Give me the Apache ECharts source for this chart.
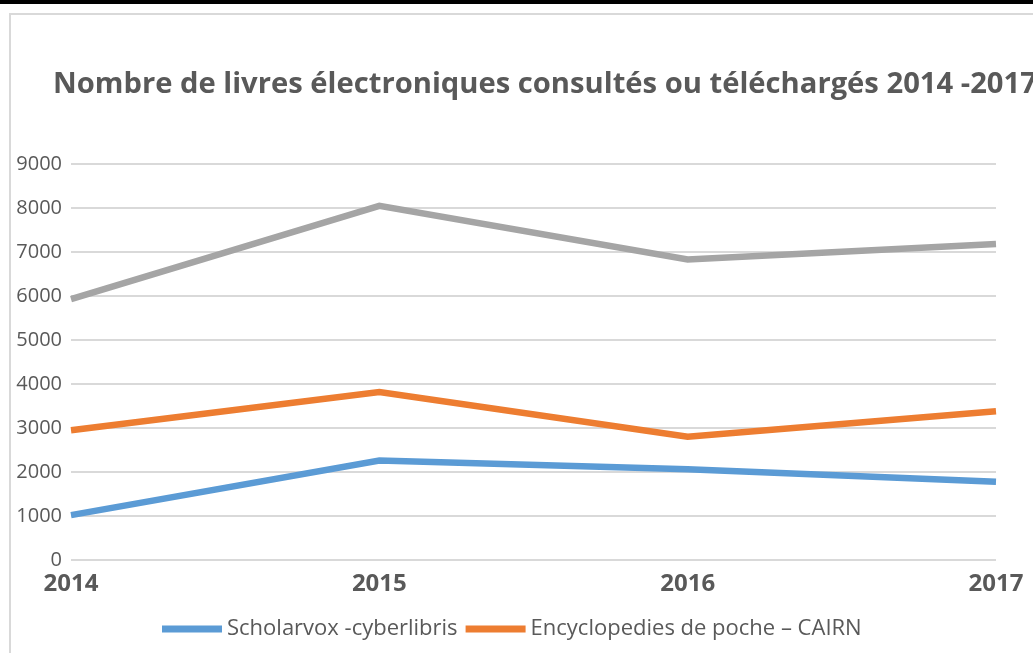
<!DOCTYPE html>
<html>
<head>
<meta charset="utf-8">
<script src="https://cdn.jsdelivr.net/npm/echarts@6/dist/echarts.min.js"></script>
<style>
html,body{margin:0;padding:0;background:#fff;}
#chart{width:1033px;height:653px;}
</style>
</head>
<body>
<div id="chart"></div>
<script>
const titleText = "Nombre de livres électroniques consultés ou téléchargés 2014 -2017";
const categories = ["2014", "2015", "2016", "2017"];
const seriesNames = ["Scholarvox -cyberlibris", "Encyclopedies de poche – CAIRN", "Série 3"];
const scholarvox = [1020, 2260, 2060, 1780];
const encyclopedies = [2950, 3820, 2800, 3380];
const serie3 = [5930, 8050, 6830, 7180];
const yTicks = {min: 0, max: 9000, interval: 1000};
const colors = ["#5B9BD5", "#ED7D31", "#A5A5A5"];

const font = "'Open Sans', sans-serif";
const chart = echarts.init(document.getElementById('chart'), null, {renderer: 'canvas'});

function lineSeries(name, data, color) {
  return {
    name: name, type: 'line', data: data, symbol: 'none',
    lineStyle: {color: color, width: 6.5, cap: 'butt', join: 'miter'},
    itemStyle: {color: color},
    emphasis: {disabled: true},
    z: 3
  };
}

chart.setOption({
  animation: false,
  backgroundColor: '#ffffff',
  graphic: [
    {type: 'rect', shape: {x: 0, y: 0, width: 1033, height: 4}, style: {fill: '#000000'}, z: 100},
    {type: 'rect', shape: {x: 10, y: 14, width: 1100, height: 700}, style: {fill: 'none', stroke: '#d9d9d9', lineWidth: 2}, z: 0}
  ],
  title: {
    text: titleText, left: 48, top: 65,
    textStyle: {fontFamily: font, fontWeight: 'bold', fontSize: 29.2, color: '#595959'}
  },
  legend: {
    data: seriesNames.slice(0, 2),
    left: 162, top: 618, padding: 0,
    icon: 'rect', itemWidth: 60, itemHeight: 7, itemGap: 8,
    textStyle: {fontFamily: font, fontSize: 22, color: '#595959', padding: [0, 0, 0, 0]}
  },
  grid: {left: 71, right: 37, top: 164, bottom: 93, containLabel: false},
  xAxis: {
    type: 'category', data: categories, boundaryGap: false,
    axisLine: {show: false}, axisTick: {show: false},
    axisLabel: {fontFamily: font, fontWeight: 'bold', fontSize: 24, color: '#595959', margin: 12}
  },
  yAxis: {
    type: 'value', min: yTicks.min, max: yTicks.max, interval: yTicks.interval,
    axisLine: {show: false}, axisTick: {show: false},
    axisLabel: {fontFamily: font, fontSize: 20, color: '#595959', margin: 9, formatter: function (v) { return String(v); }},
    splitLine: {lineStyle: {color: '#d9d9d9', width: 2}}
  },
  series: [
    lineSeries(seriesNames[0], scholarvox, colors[0]),
    lineSeries(seriesNames[1], encyclopedies, colors[1]),
    lineSeries(seriesNames[2], serie3, colors[2])
  ]
});
</script>
</body>
</html>
